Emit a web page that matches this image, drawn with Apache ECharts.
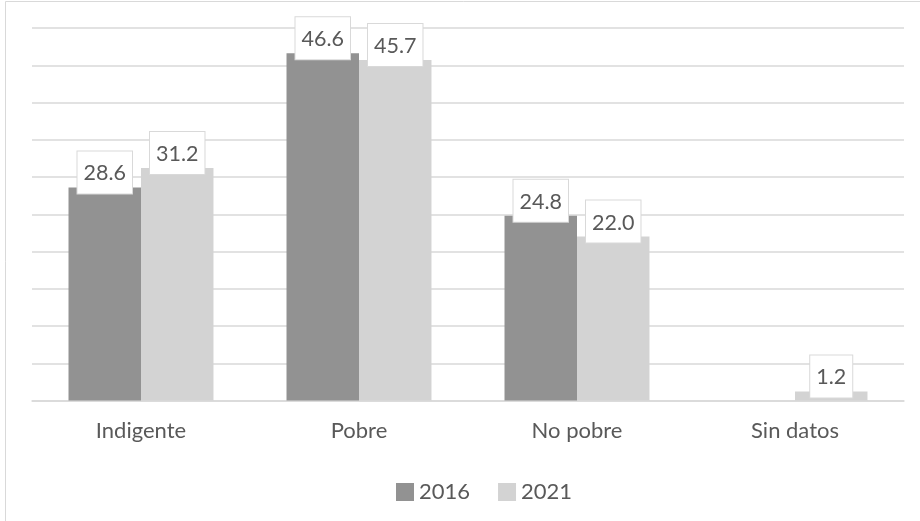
<!DOCTYPE html>
<html>
<head>
<meta charset="utf-8">
<script src="https://cdn.jsdelivr.net/npm/echarts@6/dist/echarts.min.js"></script>
<style>
  html, body { margin: 0; padding: 0; background: #ffffff; }
  #chart { width: 920px; height: 521px; }
</style>
</head>
<body>
<div id="chart"></div>
<script>
// Categories and yearly shares
const categories = ['Indigente', 'Pobre', 'No pobre', 'Sin datos'];
const years = ['2016', '2021'];
const values2016 = [28.6, 46.6, 24.8, null];
const values2021 = [31.2, 45.7, 22.0, 1.2];

const textColor = '#595959';
const fontFamily = 'Lato, "Open Sans", sans-serif';
const seriesColors = ['#929292', '#d3d3d3'];

function valueLabel() {
  return {
    show: true,
    position: 'top',
    distance: 0,
    offset: [0, 6],
    color: textColor,
    fontFamily: fontFamily,
    fontSize: 21.5,
    lineHeight: 24,
    backgroundColor: '#ffffff',
    borderColor: '#d9d9d9',
    borderWidth: 1,
    padding: [10, 6, 8, 6],
    formatter: p => (p.value == null ? '' : Number(p.value).toFixed(1))
  };
}

const chart = echarts.init(document.getElementById('chart'), null, { renderer: 'canvas' });
chart.setOption({
  backgroundColor: '#ffffff',
  animation: false,
  graphic: [{
    type: 'rect',
    shape: { x: 5.5, y: 1.5, width: 930, height: 530 },
    style: { fill: 'none', stroke: '#d9d9d9', lineWidth: 1 },
    silent: true,
    z: -10
  }],
  grid: { left: 32, right: 16, top: 28, bottom: 120.5 },
  legend: {
    data: years,
    left: 391,
    top: 476,
    itemWidth: 18,
    itemHeight: 18,
    itemGap: 28,
    icon: 'rect',
    textStyle: { color: textColor, fontFamily: fontFamily, fontSize: 22 }
  },
  xAxis: {
    type: 'category',
    data: categories,
    axisLine: { show: true, lineStyle: { color: '#d9d9d9', width: 1.5 } },
    axisTick: { show: false },
    axisLabel: { color: textColor, fontFamily: fontFamily, fontSize: 22, margin: 19 }
  },
  yAxis: {
    type: 'value',
    min: 0,
    max: 50,
    interval: 5,
    axisLine: { show: false },
    axisTick: { show: false },
    axisLabel: { show: false },
    splitLine: { lineStyle: { color: '#d9d9d9', width: 1.5 } }
  },
  series: [
    {
      name: years[0],
      type: 'bar',
      data: values2016,
      barGap: '0%',
      barCategoryGap: '33.5%',
      itemStyle: { color: seriesColors[0] },
      label: valueLabel()
    },
    {
      name: years[1],
      type: 'bar',
      data: values2021,
      barGap: '0%',
      barCategoryGap: '33.5%',
      itemStyle: { color: seriesColors[1] },
      label: valueLabel()
    }
  ]
});
</script>
</body>
</html>
